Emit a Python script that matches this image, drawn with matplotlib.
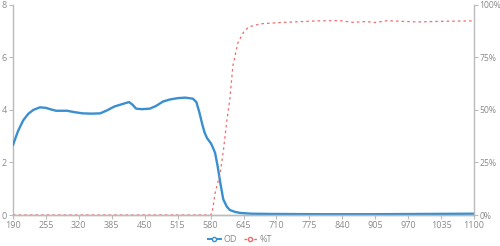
import matplotlib
matplotlib.use("Agg")
import matplotlib.pyplot as plt
from matplotlib.lines import Line2D
from matplotlib.ticker import FuncFormatter

plt.rcParams["font.family"] = ["Open Sans", "DejaVu Sans"]

# Optical density curve (wavelength in nm)
od_nm = [190, 200, 210, 220, 230, 243, 255, 265, 275, 297, 310, 328, 345, 362,
         375, 390, 405, 419, 426, 433, 445, 460, 472, 486, 500, 515, 530, 545,
         552, 558, 563, 568, 573, 581, 585, 589, 594, 599, 605, 612, 618, 628,
         638, 660, 700, 800, 900, 1000, 1100]
od_val = [2.67, 3.2, 3.6, 3.85, 4.0, 4.1, 4.08, 4.02, 3.97, 3.97, 3.92, 3.87,
          3.86, 3.87, 3.98, 4.13, 4.22, 4.3, 4.2, 4.05, 4.03, 4.05, 4.15, 4.32,
          4.4, 4.45, 4.47, 4.43, 4.3, 3.9, 3.5, 3.15, 2.93, 2.72, 2.55, 2.36,
          1.85, 1.25, 0.6, 0.32, 0.19, 0.12, 0.08, 0.05, 0.04, 0.03, 0.03,
          0.04, 0.05]

# Transmission curve (%)
t_nm = [190, 580, 583, 589, 599, 606, 612, 618, 624, 634, 645, 655, 678, 717,
        790, 835, 861, 888, 904, 928, 987, 1040, 1100]
t_val = [0, 0, 1, 10.5, 20, 32, 44.8, 55, 71, 82, 87, 89.5, 91, 91.6, 92.4,
         92.5, 91.7, 92.1, 91.6, 92.5, 91.9, 92.2, 92.4]

x_ticks = list(range(190, 1101, 65))
od_ticks = [0, 2, 4, 6, 8]
t_ticks = [0, 25, 50, 75, 100]

blue = "#3a8fd0"
red = "#ee6b6b"
label_grey = "#8a8a8a"

fig = plt.figure(figsize=(5.0, 2.46), dpi=100)
ax = fig.add_axes([0.026, 0.126, 0.922, 0.854])
ax2 = ax.twinx()

ax.plot(od_nm, od_val, color=blue, linewidth=1.7, zorder=3)
ax2.plot(t_nm, t_val, color=red, linewidth=0.9, linestyle=(0, (2, 2.5)))

ax.set_xlim(190, 1100)
ax.set_ylim(0, 8)
ax2.set_ylim(0, 100)
ax.set_xticks(x_ticks)
ax.set_yticks(od_ticks)
ax2.set_yticks(t_ticks)
ax2.yaxis.set_major_formatter(FuncFormatter(lambda v, p: f"{v:.0f}%"))

for a in (ax, ax2):
    a.spines["top"].set_visible(False)
    for side in ("left", "right", "bottom"):
        a.spines[side].set_color("#bbbbbb")
        a.spines[side].set_linewidth(1.0)
    a.tick_params(colors="#bbbbbb", labelcolor=label_grey, labelsize=6.5,
                  length=3, width=0.8, pad=1.5)
ax2.tick_params(labelsize=6.2, pad=1.0)
ax2.spines["left"].set_visible(False)
ax.spines["right"].set_visible(False)

handles = [
    Line2D([0], [0], color=blue, linewidth=1.4, marker="o", markersize=3,
           markerfacecolor="white", markeredgecolor=blue),
    Line2D([0], [0], color=red, linewidth=1.0, linestyle=(0, (2, 1.5)),
           marker="o", markersize=3, markerfacecolor="white",
           markeredgecolor=red),
]
fig.legend(handles, ["OD", "%T"], loc="center", bbox_to_anchor=(0.48, 0.025),
           ncol=2, frameon=False, fontsize=6.5, labelcolor=label_grey,
           handlelength=1.4, handletextpad=0.3, columnspacing=0.8)

fig.savefig("out.png", dpi=100)
